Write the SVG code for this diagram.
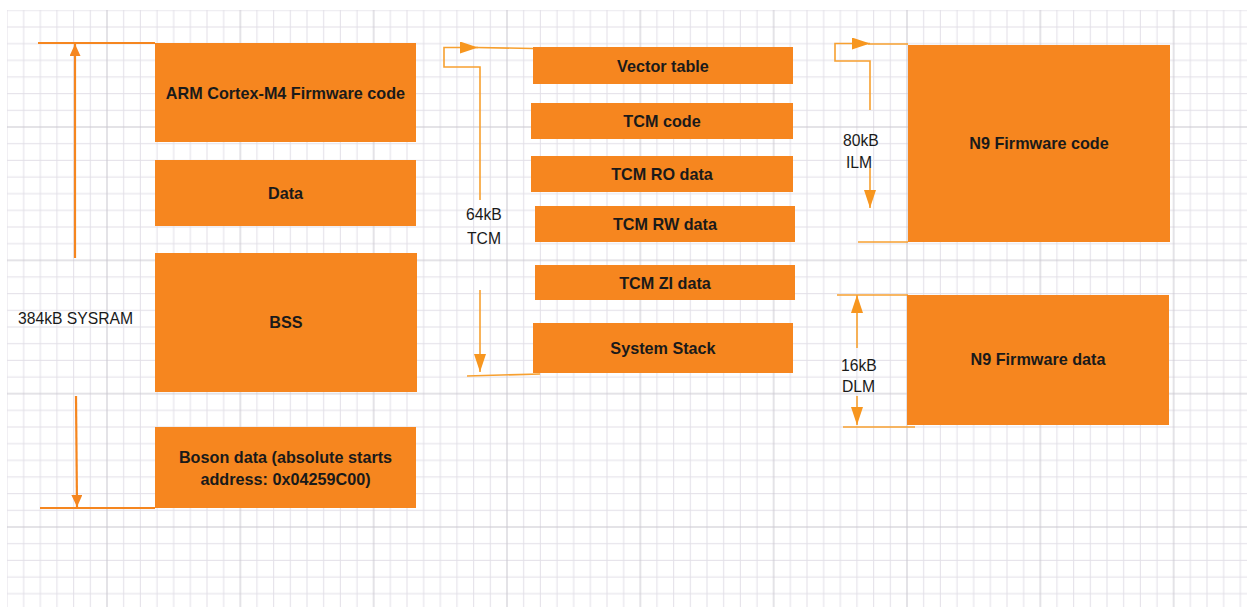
<svg xmlns="http://www.w3.org/2000/svg" width="1252" height="607" viewBox="0 0 1252 607">
<defs>
<style>
.box{fill:#F6861F}
.t{font-family:"Liberation Sans",Arial,sans-serif;font-weight:bold;font-size:16.2px;fill:#1a1a1a;text-anchor:middle;dominant-baseline:central}
.lbl{font-family:"Liberation Sans",Arial,sans-serif;font-size:15.7px;fill:#1a1a1a;dominant-baseline:central}
.c{stroke:#F5861F;fill:none;stroke-width:2.2}
.c2{stroke:#F7A030;fill:none;stroke-width:1.6}
.minor{stroke:#E2DFE7;stroke-width:1;fill:none}
.major{stroke:#CAC7CF;stroke-width:1;fill:none}
</style>
<marker id="ah" viewBox="0 0 12 11" refX="12" refY="5.5" markerWidth="12" markerHeight="11" markerUnits="userSpaceOnUse" orient="auto">
<path d="M0,0 L12,5.5 L0,11 z" fill="#F5861F"/>
</marker>
<marker id="ah2" viewBox="0 0 18 12" refX="18" refY="6" markerWidth="18" markerHeight="12" markerUnits="userSpaceOnUse" orient="auto">
<path d="M0,0 L18,6 L0,12 z" fill="#F7961F"/>
</marker>
<pattern id="grid" x="107" y="127" width="133.333" height="133.333" patternUnits="userSpaceOnUse">
<path class="minor" d="M16.667,0V133.333M33.333,0V133.333M50,0V133.333M66.667,0V133.333M83.333,0V133.333M100,0V133.333M116.667,0V133.333M0,16.667H133.333M0,33.333H133.333M0,50H133.333M0,66.667H133.333M0,83.333H133.333M0,100H133.333M0,116.667H133.333"/>
<path class="major" d="M0,0V133.333M133.333,0V133.333M0,0H133.333M0,133.333H133.333"/>
</pattern>
</defs>
<rect x="0" y="0" width="1252" height="607" fill="#ffffff"/>
<rect x="7" y="10" width="1240" height="597" fill="url(#grid)"/>

<g id="connectors">
<line class="c" x1="38" y1="43" x2="155" y2="43"/>
<path class="c" d="M75,258 V44" marker-end="url(#ah)"/>
<path class="c" d="M76,396 L77,507" marker-end="url(#ah)"/>
<line class="c" x1="40" y1="508" x2="155" y2="508"/>

<path class="c2" d="M480,200 V67 H444 V47.5 H478" marker-end="url(#ah2)"/>
<line class="c2" x1="476" y1="47.5" x2="533" y2="48.5"/>
<path class="c2" d="M480,290 V372" marker-end="url(#ah2)"/>
<line class="c2" x1="467" y1="376" x2="540" y2="374"/>

<path class="c2" d="M870,110 V61 H835 V43.5 H870" marker-end="url(#ah2)"/>
<line class="c2" x1="868" y1="44" x2="908" y2="44"/>
<path class="c2" d="M870,168 V208" marker-end="url(#ah2)"/>
<line class="c2" x1="858" y1="242" x2="908" y2="242"/>

<line class="c2" x1="837" y1="295" x2="908" y2="295"/>
<path class="c2" d="M857,348 V295" marker-end="url(#ah2)"/>
<path class="c2" d="M857,396 V425" marker-end="url(#ah2)"/>
<line class="c2" x1="843" y1="427" x2="915" y2="427"/>
</g>

<g id="labels">
<text class="lbl" x="18" y="318">384kB SYSRAM</text>
<text class="lbl" x="466" y="214">64kB</text>
<text class="lbl" x="467" y="238">TCM</text>
<text class="lbl" x="843" y="140">80kB</text>
<text class="lbl" x="846" y="162">ILM</text>
<text class="lbl" x="841" y="365">16kB</text>
<text class="lbl" x="842" y="386">DLM</text>
</g>

<g id="arm-code"><rect class="box" x="155" y="43" width="261" height="99"/><text class="t" x="285.5" y="93">ARM Cortex-M4 Firmware code</text></g>
<g id="data"><rect class="box" x="155" y="160" width="261" height="66"/><text class="t" x="285.5" y="193">Data</text></g>
<g id="bss"><rect class="box" x="155" y="253" width="262" height="139"/><text class="t" x="286" y="322">BSS</text></g>
<g id="boson"><rect class="box" x="155" y="427" width="261" height="81"/><text class="t" x="285.5" y="457">Boson data (absolute starts</text><text class="t" x="285.5" y="479">address: 0x04259C00)</text></g>

<g id="vector-table"><rect class="box" x="533" y="47" width="260" height="37"/><text class="t" x="663" y="65.5">Vector table</text></g>
<g id="tcm-code"><rect class="box" x="531" y="103" width="262" height="36"/><text class="t" x="662" y="121">TCM code</text></g>
<g id="tcm-ro"><rect class="box" x="531" y="156" width="262" height="36"/><text class="t" x="662" y="174">TCM RO data</text></g>
<g id="tcm-rw"><rect class="box" x="535" y="206" width="260" height="36"/><text class="t" x="665" y="224">TCM RW data</text></g>
<g id="tcm-zi"><rect class="box" x="535" y="265" width="260" height="35"/><text class="t" x="665" y="282.5">TCM ZI data</text></g>
<g id="system-stack"><rect class="box" x="533" y="323" width="260" height="50"/><text class="t" x="663" y="348">System Stack</text></g>

<g id="n9-code"><rect class="box" x="908" y="45" width="262" height="197"/><text class="t" x="1039" y="143">N9 Firmware code</text></g>
<g id="n9-data"><rect class="box" x="907" y="295" width="262" height="130"/><text class="t" x="1038" y="359">N9 Firmware data</text></g>
</svg>
